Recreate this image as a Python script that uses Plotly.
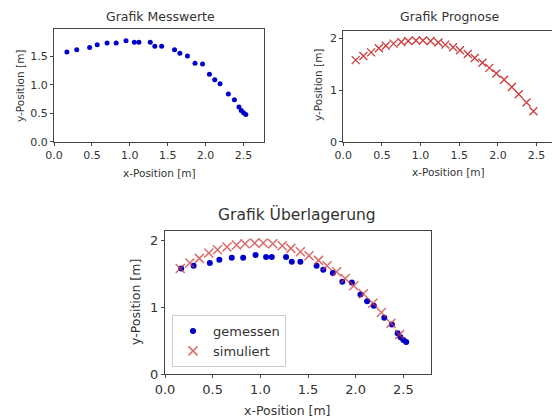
import plotly.graph_objects as go

# measured data
mess_x = [0.17, 0.30, 0.47, 0.57, 0.70, 0.82, 0.95, 1.06, 1.12, 1.27, 1.33, 1.42,
          1.59, 1.66, 1.76, 1.86, 1.96, 2.05, 2.12, 2.19, 2.30, 2.38, 2.44, 2.47, 2.50, 2.53]
mess_y = [1.58, 1.62, 1.66, 1.71, 1.74, 1.74, 1.78, 1.75, 1.75, 1.75, 1.68, 1.68,
          1.62, 1.56, 1.51, 1.38, 1.37, 1.19, 1.09, 1.02, 0.84, 0.74, 0.61, 0.55, 0.51, 0.48]
# simulated data
sim_x = [0.16, 0.26, 0.36, 0.46, 0.55, 0.65, 0.75, 0.84, 0.94, 1.03, 1.13, 1.23, 1.32,
         1.42, 1.51, 1.61, 1.70, 1.80, 1.89, 1.98, 2.08, 2.18, 2.27, 2.37, 2.46]
sim_y = [1.58, 1.66, 1.73, 1.81, 1.86, 1.90, 1.93, 1.95, 1.96, 1.96, 1.95, 1.92, 1.88,
         1.83, 1.77, 1.70, 1.62, 1.53, 1.43, 1.32, 1.20, 1.06, 0.92, 0.76, 0.59]

x_ticks = [0.0, 0.5, 1.0, 1.5, 2.0, 2.5]
y_ticks_mess = [0.0, 0.5, 1.0, 1.5]
y_ticks_int = [0, 1, 2]

FONT = "DejaVu Sans"
TXT = "#333333"
BLUE = "#0000cc"
RED = "#d03a3a"
W, H = 552, 420

fig = go.Figure()
fig.add_trace(go.Scatter(x=mess_x, y=mess_y, mode="markers", xaxis="x", yaxis="y",
                         marker=dict(color=BLUE, size=5), showlegend=False))
fig.add_trace(go.Scatter(x=sim_x, y=sim_y, mode="markers", xaxis="x2", yaxis="y2",
                         marker=dict(symbol="x-thin", size=8, line=dict(color=RED, width=1.3)),
                         showlegend=False))
fig.add_trace(go.Scatter(x=mess_x, y=mess_y, mode="markers", xaxis="x3", yaxis="y3",
                         name="gemessen", marker=dict(color=BLUE, size=6)))
fig.add_trace(go.Scatter(x=sim_x, y=sim_y, mode="markers", xaxis="x3", yaxis="y3",
                         name="simuliert", opacity=0.75,
                         marker=dict(symbol="x-thin", size=9, line=dict(color=RED, width=1.5))))


def ax(domain, rng, anchor, tfs, tickvals, fmt):
    return dict(domain=domain, range=rng, anchor=anchor, showgrid=False, zeroline=False,
                showline=True, linecolor="#444", linewidth=1, mirror=True,
                ticks="outside", ticklen=3, tickcolor="#444", automargin=False,
                ticklabeloverflow="allow",
                tickfont=dict(family=FONT, size=tfs, color=TXT),
                tickvals=tickvals, tickformat=fmt)


def px(x, y):
    return x / W, 1 - y / H


def label(text, x, y, size, angle=0):
    xx, yy = px(x, y)
    return dict(text=text, x=xx, y=yy, xref="paper", yref="paper", showarrow=False,
                xanchor="center", yanchor="middle", textangle=angle,
                font=dict(family=FONT, size=size, color=TXT))


fig.update_layout(
    width=W, height=H, margin=dict(l=0, r=0, t=0, b=0),
    paper_bgcolor="white", plot_bgcolor="white",
    xaxis=ax([54 / W, 264 / W], [0, 2.77], "y", 11, x_ticks, ".1f"),
    yaxis=ax([1 - 141.7 / H, 1 - 29.3 / H], [0, 1.98], "x", 11, y_ticks_mess, ".1f"),
    xaxis2=ax([343.3 / W, 1.0], [0, 2.70], "y2", 11, x_ticks, ".1f"),
    yaxis2=ax([1 - 141.7 / H, 1 - 30.7 / H], [0, 2.15], "x2", 11, y_ticks_int, "d"),
    xaxis3=ax([165 / W, 431 / W], [0, 2.79], "y3", 13, x_ticks, ".1f"),
    yaxis3=ax([1 - 374 / H, 1 - 231 / H], [0, 2.14], "x3", 13, y_ticks_int, "d"),
    legend=dict(x=172 / W, y=1 - 315 / H, xanchor="left", yanchor="top",
                bgcolor="rgba(255,255,255,0.8)", bordercolor="#cccccc", borderwidth=1,
                font=dict(family=FONT, size=13, color=TXT), itemwidth=30),
    annotations=[
        label("Grafik Messwerte", 160, 17, 12.5),
        label("Grafik Prognose", 449, 17, 12.5),
        label("Grafik Überlagerung", 297, 215, 15.5),
        label("x-Position [m]", 159, 173, 10.5),
        label("y-Position [m]", 20, 86, 10.5, -90),
        label("x-Position [m]", 448, 172, 10.5),
        label("y-Position [m]", 318, 85, 10.5, -90),
        label("x-Position [m]", 287, 410, 12.5),
        label("y-Position [m]", 135, 302, 12.5, -90),
    ],
)

fig.write_html("out.html",
               config={"displayModeBar": False},
               post_script="document.body.style.margin='0px';"
                           "document.body.style.overflow='hidden';")
